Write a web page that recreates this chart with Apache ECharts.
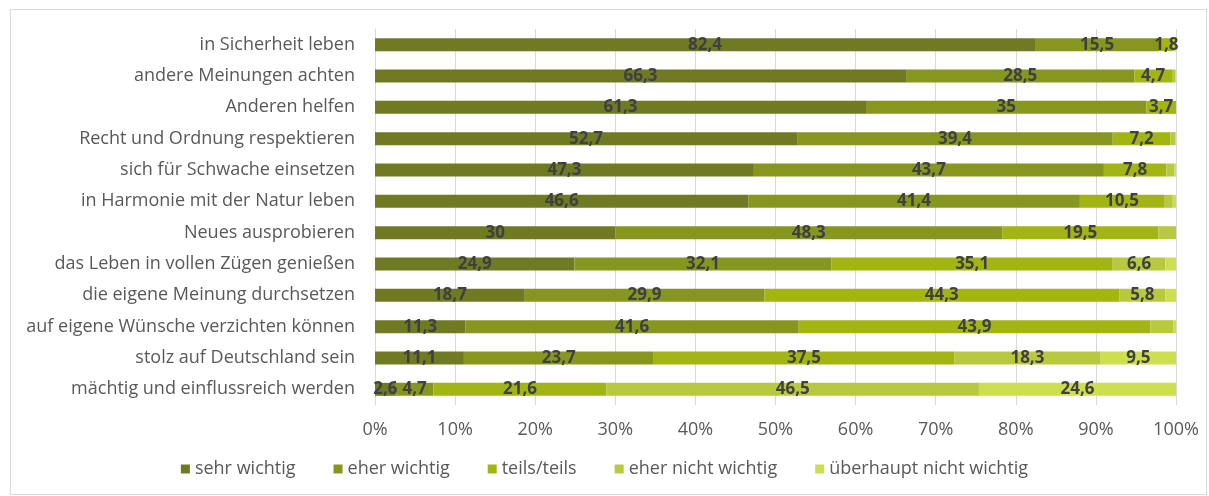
<!DOCTYPE html>
<html>
<head>
<meta charset="utf-8">
<script src="https://cdn.jsdelivr.net/npm/echarts@6/dist/echarts.min.js"></script>
<style>
  html, body { margin: 0; padding: 0; background: #fff; }
  #frame { position: absolute; left: 10px; top: 9px; width: 1197px; height: 486px; border: 1px solid #d9d9d9; box-sizing: border-box; }
  #chart { position: absolute; left: 0; top: 0; width: 1209px; height: 496px; }
</style>
</head>
<body>
<div id="frame"></div>
<div id="chart"></div>
<script>
// Kategorien (von oben nach unten)
var categories = [
    'in Sicherheit leben',
    'andere Meinungen achten',
    'Anderen helfen',
    'Recht und Ordnung respektieren',
    'sich für Schwache einsetzen',
    'in Harmonie mit der Natur leben',
    'Neues ausprobieren',
    'das Leben in vollen Zügen genießen',
    'die eigene Meinung durchsetzen',
    'auf eigene Wünsche verzichten können',
    'stolz auf Deutschland sein',
    'mächtig und einflussreich werden'
];
var seriesNames = ['sehr wichtig', 'eher wichtig', 'teils/teils', 'eher nicht wichtig', 'überhaupt nicht wichtig'];

var sehrWichtig      = [82.4, 66.3, 61.3, 52.7, 47.3, 46.6, 30.0, 24.9, 18.7, 11.3, 11.1, 2.6];
var eherWichtig      = [15.5, 28.5, 35.0, 39.4, 43.7, 41.4, 48.3, 32.1, 29.9, 41.6, 23.7, 4.7];
var teilsTeils       = [1.8, 4.7, 3.7, 7.2, 7.8, 10.5, 19.5, 35.1, 44.3, 43.9, 37.5, 21.6];
var eherNichtWichtig = [0.2, 0.4, 0, 0.6, 1.0, 1.1, 2.2, 6.6, 5.8, 2.9, 18.3, 46.5];
var ueberhauptNicht  = [0.1, 0.1, 0, 0.1, 0.2, 0.4, 0, 1.3, 1.3, 0.3, 9.5, 24.6];

var xTicks = [0, 10, 20, 30, 40, 50, 60, 70, 80, 90, 100];

var colors = ['#6f7a22', '#87961f', '#a3b513', '#b9c93f', '#cddf4e'];

// kleine Werte ohne Beschriftung, ausser diesen (Zeile, Reihe)
var shownSmall = ['0-2', '11-0'];

function showChart() {
    var myChart = echarts.init(document.getElementById('chart'));
    var allData = [sehrWichtig, eherWichtig, teilsTeils, eherNichtWichtig, ueberhauptNicht];
    var series = allData.map(function (arr, si) {
        return {
            name: seriesNames[si],
            type: 'bar',
            stack: 'total',
            barWidth: 13,
            data: arr,
            itemStyle: {color: colors[si]},
            label: {
                show: true,
                position: 'inside',
                color: '#404040',
                fontWeight: 'bold',
                fontSize: 17,
                fontFamily: 'Open Sans',
                formatter: function (p) {
                    if (p.value >= 3 || shownSmall.indexOf(p.dataIndex + '-' + si) >= 0) {
                        return String(p.value).replace('.', ',');
                    }
                    return '';
                }
            }
        };
    });
    var option = {
        animation: false,
        color: colors,
        textStyle: {fontFamily: 'Open Sans'},
        grid: {
            left: 375,
            right: 33,
            top: 29,
            bottom: 91,
            containLabel: false
        },
        legend: {
            bottom: 13,
            left: 'center',
            itemWidth: 9,
            itemHeight: 9,
            itemGap: 38,
            icon: 'rect',
            textStyle: {color: '#595959', fontSize: 18},
            data: seriesNames
        },
        xAxis: {
            type: 'value',
            min: 0,
            max: 100,
            interval: 10,
            axisLine: {show: false},
            axisTick: {show: false},
            splitLine: {lineStyle: {color: '#d9d9d9', width: 1}},
            axisLabel: {
                color: '#595959',
                fontSize: 18,
                margin: 16,
                formatter: function (v) { return xTicks.indexOf(v) >= 0 ? v + '%' : ''; }
            }
        },
        yAxis: {
            type: 'category',
            inverse: true,
            data: categories,
            axisLine: {show: true, lineStyle: {color: '#d9d9d9'}},
            axisTick: {show: false},
            axisLabel: {color: '#595959', fontSize: 18, margin: 20}
        },
        series: series
    };
    myChart.setOption(option);
}
showChart();
</script>
</body>
</html>
